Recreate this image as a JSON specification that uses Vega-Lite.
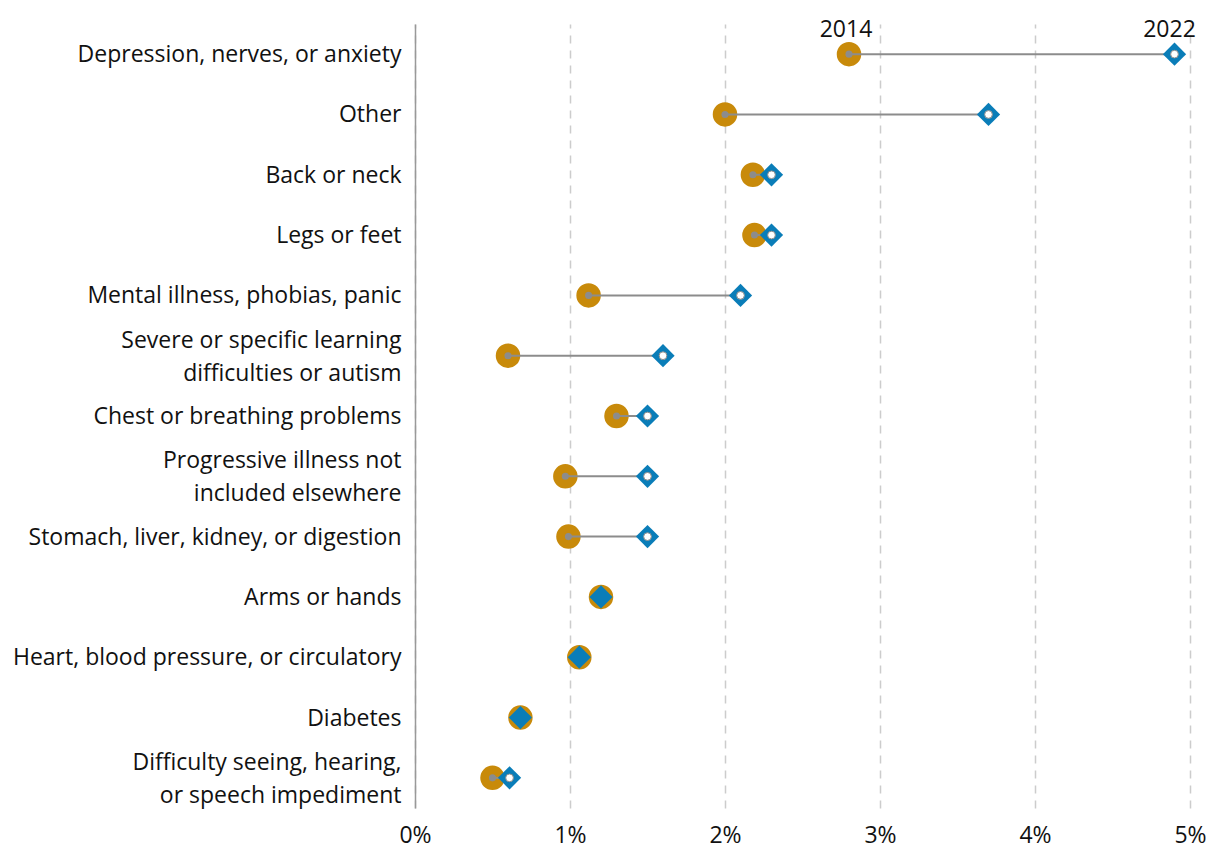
{
  "$schema": "https://vega.github.io/schema/vega-lite/v6.json",
  "width": 775,
  "height": 784,
  "autosize": {"type": "none"},
  "padding": {"left": 415, "top": 24, "right": 21, "bottom": 40},
  "background": "white",
  "config": {
    "view": {"stroke": null},
    "font": "Open Sans",
    "axis": {"labelFont": "Open Sans", "labelFontSize": 23, "labelColor": "#111111"}
  },
  "data": {
    "values": [
      {"condition": "Depression, nerves, or anxiety", "v2014": 2.8, "v2022": 4.9},
      {"condition": "Other", "v2014": 2.0, "v2022": 3.7},
      {"condition": "Back or neck", "v2014": 2.18, "v2022": 2.3},
      {"condition": "Legs or feet", "v2014": 2.19, "v2022": 2.3},
      {"condition": "Mental illness, phobias, panic", "v2014": 1.12, "v2022": 2.1},
      {"condition": "Severe or specific learning difficulties or autism", "v2014": 0.6, "v2022": 1.6},
      {"condition": "Chest or breathing problems", "v2014": 1.3, "v2022": 1.5},
      {"condition": "Progressive illness not included elsewhere", "v2014": 0.97, "v2022": 1.5},
      {"condition": "Stomach, liver, kidney, or digestion", "v2014": 0.99, "v2022": 1.5},
      {"condition": "Arms or hands", "v2014": 1.2, "v2022": 1.2},
      {"condition": "Heart, blood pressure, or circulatory", "v2014": 1.06, "v2022": 1.06},
      {"condition": "Diabetes", "v2014": 0.68, "v2022": 0.68},
      {"condition": "Difficulty seeing, hearing, or speech impediment", "v2014": 0.5, "v2022": 0.61}
    ]
  },
  "encoding": {
    "y": {
      "field": "condition",
      "type": "nominal",
      "sort": null,
      "scale": {"paddingInner": 0, "paddingOuter": 0},
      "axis": {
        "title": null,
        "ticks": false,
        "domainColor": "#999999",
        "domainWidth": 1.5,
        "labelPadding": 14,
        "labelLineHeight": 33,
        "labelLimit": 420,
        "labelOffset": {"expr": "indexof(['Severe or specific learning difficulties or autism', 'Progressive illness not included elsewhere', 'Difficulty seeing, hearing, or speech impediment'], datum.value) >= 0 ? -15 : 1"},
        "labelExpr": "datum.label == 'Severe or specific learning difficulties or autism' ? ['Severe or specific learning', 'difficulties or autism'] : datum.label == 'Progressive illness not included elsewhere' ? ['Progressive illness not', 'included elsewhere'] : datum.label == 'Difficulty seeing, hearing, or speech impediment' ? ['Difficulty seeing, hearing,', 'or speech impediment'] : datum.label"
      }
    }
  },
  "layer": [
    {
      "mark": {"type": "point", "shape": "circle", "filled": true, "size": 600, "color": "#C88A0A", "opacity": 1},
      "encoding": {
        "x": {
          "field": "v2014",
          "type": "quantitative",
          "scale": {"domain": [0, 5], "nice": false},
          "axis": {
            "title": null,
            "domain": false,
            "ticks": false,
            "values": [0, 1, 2, 3, 4, 5],
            "labelExpr": "datum.value + '%'",
            "labelFlush": false,
            "labelPadding": 16,
            "grid": true,
            "gridColor": "#cccccc",
            "gridWidth": 1.5,
            "gridDash": [8, 7]
          }
        }
      }
    },
    {
      "transform": [{"filter": "datum.v2014 != datum.v2022"}],
      "mark": {"type": "rule", "color": "#8c8c8c", "strokeWidth": 2},
      "encoding": {"x": {"field": "v2014", "type": "quantitative"}, "x2": {"field": "v2022"}}
    },
    {
      "transform": [{"filter": "datum.v2014 != datum.v2022"}],
      "mark": {"type": "point", "shape": "circle", "filled": true, "size": 50, "color": "#8c8c8c", "opacity": 1},
      "encoding": {"x": {"field": "v2014", "type": "quantitative"}}
    },
    {
      "mark": {"type": "point", "shape": "diamond", "filled": true, "size": 540, "color": "#0A7DB8", "opacity": 1},
      "encoding": {"x": {"field": "v2022", "type": "quantitative"}}
    },
    {
      "transform": [{"filter": "datum.v2014 != datum.v2022"}],
      "mark": {"type": "point", "shape": "circle", "filled": true, "size": 60, "fill": "white", "stroke": "#8c8c8c", "strokeWidth": 1, "opacity": 1},
      "encoding": {"x": {"field": "v2022", "type": "quantitative"}}
    },
    {
      "transform": [{"filter": "datum.condition == 'Depression, nerves, or anxiety'"}],
      "mark": {"type": "text", "fontSize": 23, "dy": -24, "dx": -3, "color": "#111111", "font": "Open Sans"},
      "encoding": {"x": {"field": "v2014", "type": "quantitative"}, "text": {"value": "2014"}}
    },
    {
      "transform": [{"filter": "datum.condition == 'Depression, nerves, or anxiety'"}],
      "mark": {"type": "text", "fontSize": 23, "dy": -24, "dx": -5, "color": "#111111", "font": "Open Sans"},
      "encoding": {"x": {"field": "v2022", "type": "quantitative"}, "text": {"value": "2022"}}
    }
  ]
}
